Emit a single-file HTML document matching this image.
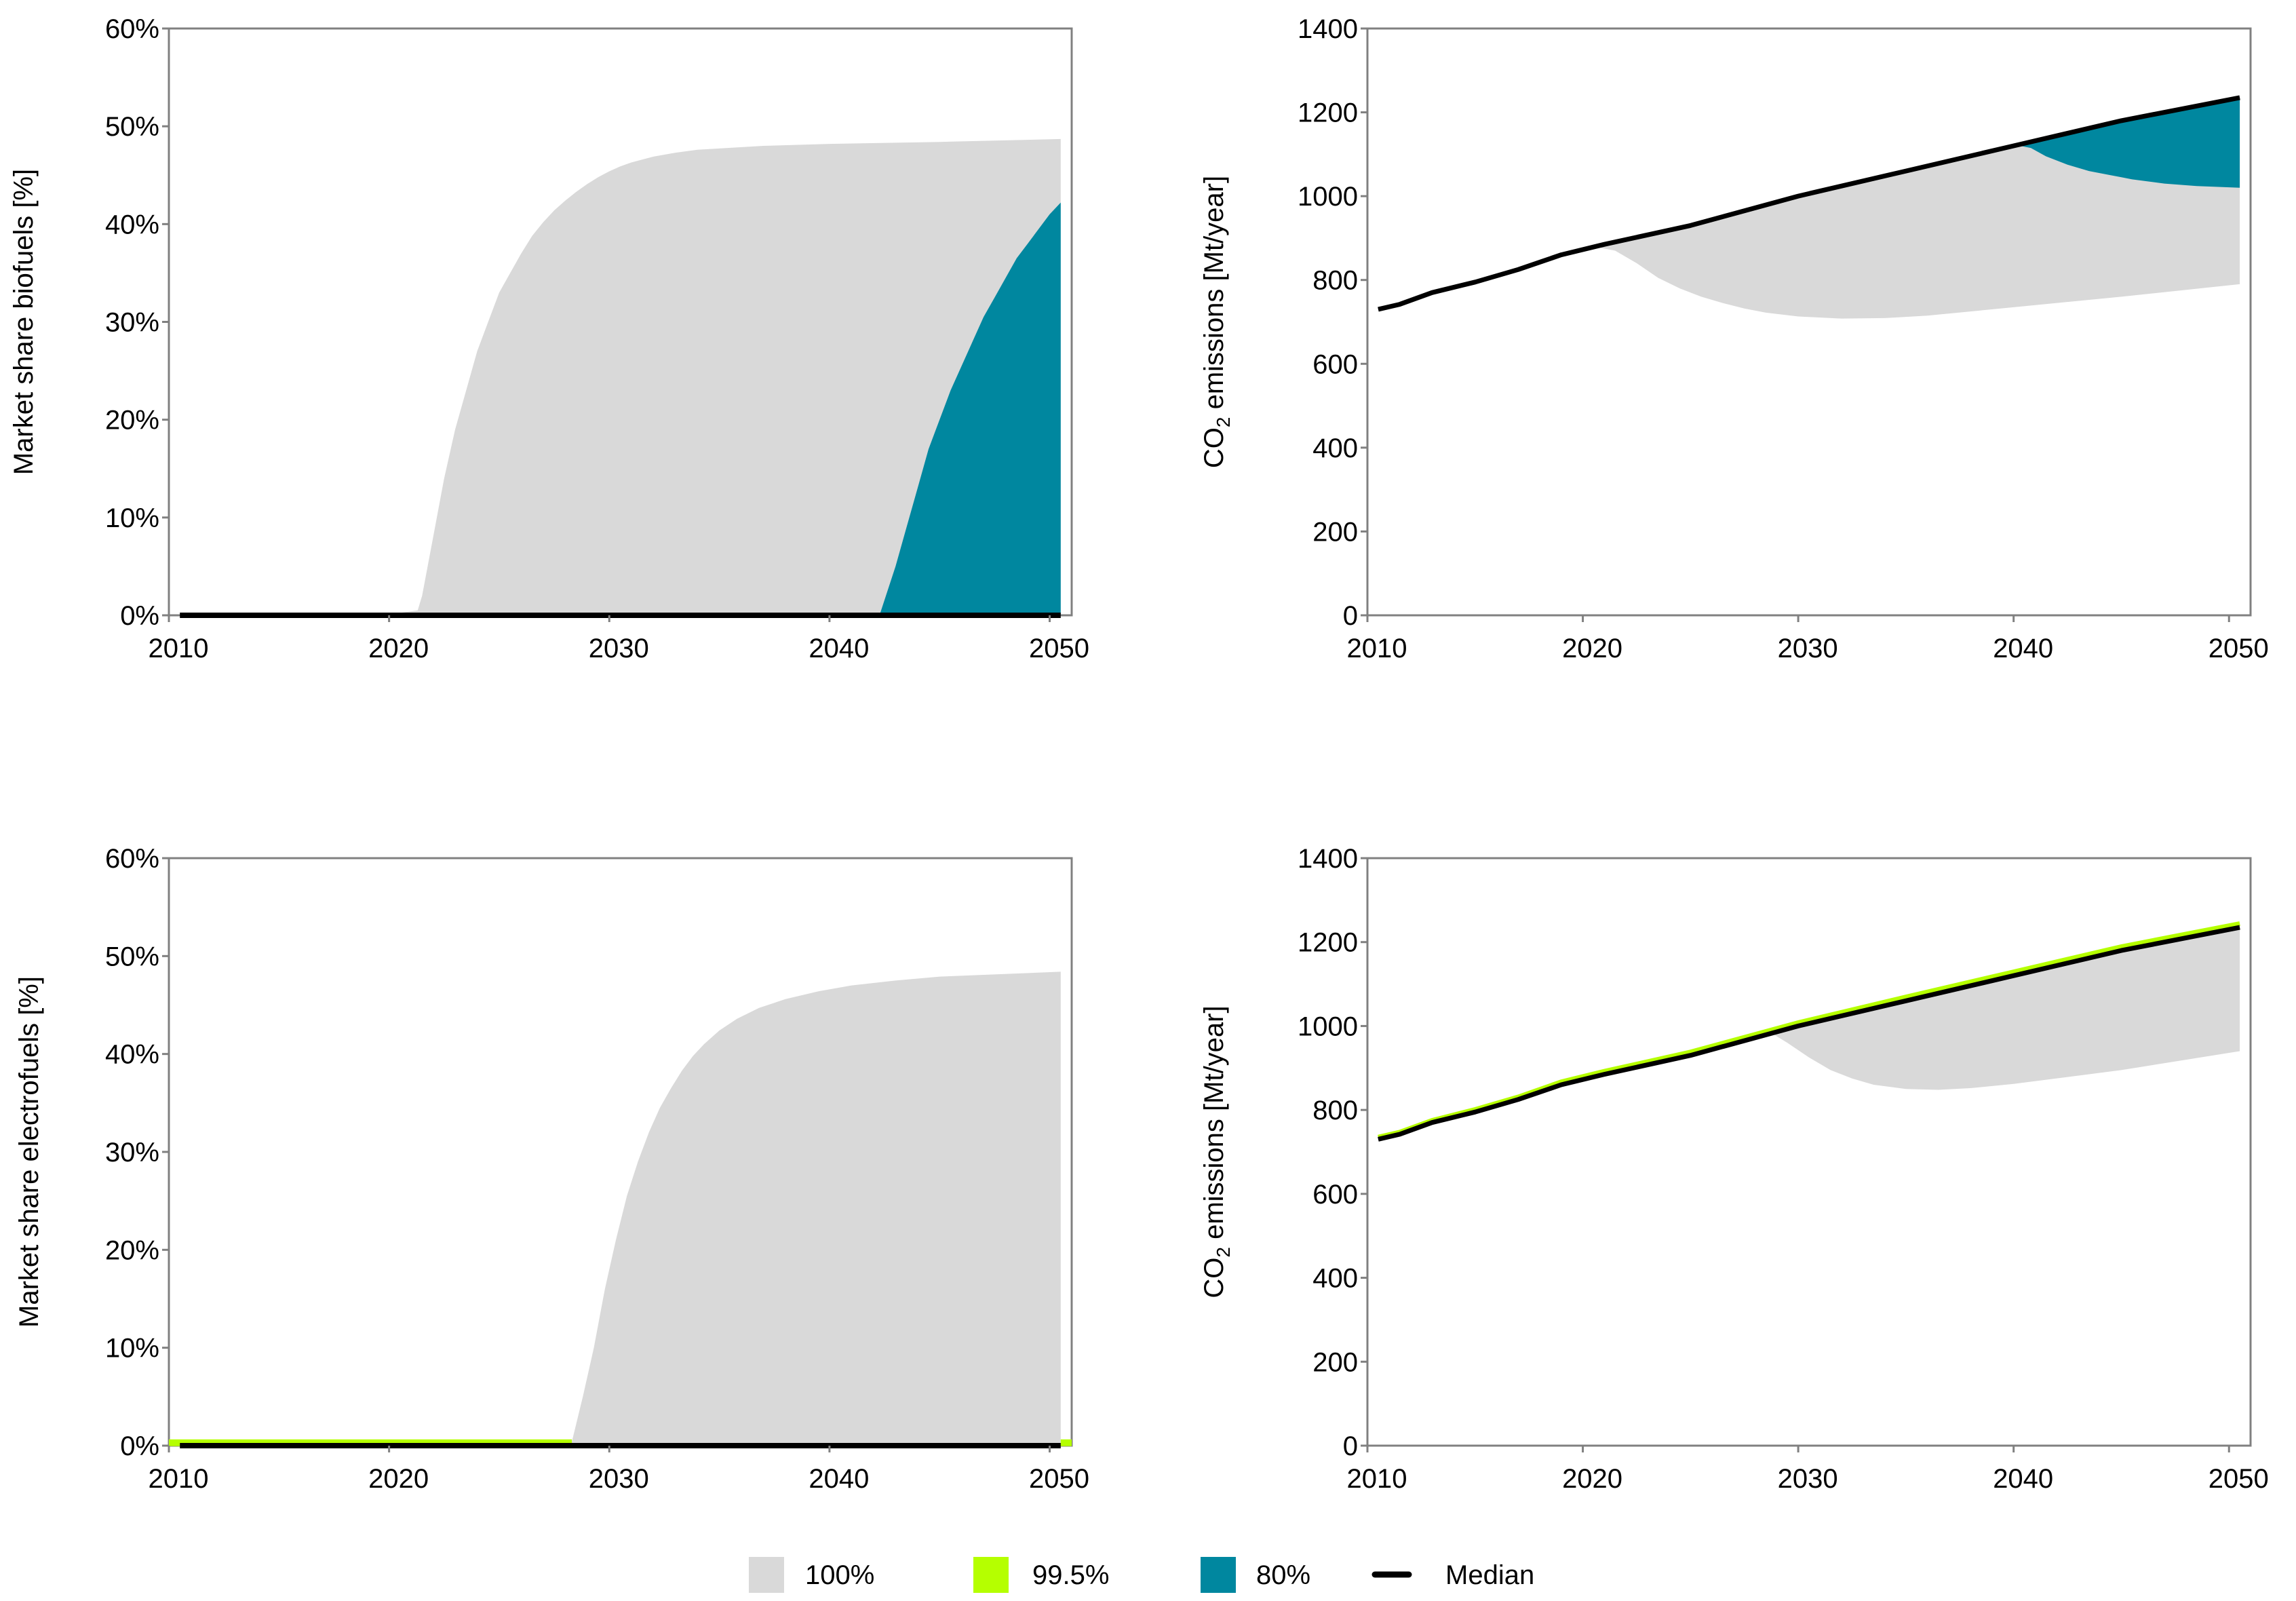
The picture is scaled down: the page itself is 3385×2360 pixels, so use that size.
<!DOCTYPE html>
<html><head><meta charset="utf-8"><style>
html,body{margin:0;padding:0;background:#fff;}
svg{display:block;font-family:"Liberation Sans",sans-serif;}
</style></head><body>
<svg id="chart" width="3385" height="2360" viewBox="0 0 3385 2360" xmlns="http://www.w3.org/2000/svg">
<g id="legend">
<rect x="1104" y="2295" width="52" height="53" fill="#d9d9d9"/>
<text x="1187" y="2335" font-size="40">100%</text>
<rect x="1435" y="2295" width="52" height="53" fill="#b5ff00"/>
<text x="1522" y="2335" font-size="40">99.5%</text>
<rect x="1770" y="2295" width="52" height="53" fill="#00879f"/>
<text x="1852" y="2335" font-size="40">80%</text>
<line x1="2027" y1="2321" x2="2077" y2="2321" stroke="#000" stroke-width="9" stroke-linecap="round"/>
<text x="2131" y="2335" font-size="40">Median</text>
</g>
</svg>
<script>
// ---- data ----
const bioGrayYears = [2010.5,2020,2021.3,2021.5,2022,2022.5,2023,2023.5,2024,2024.5,2025,2025.5,2026,2026.5,2027,2027.5,2028,2028.5,2029,2029.5,2030,2030.5,2031,2032,2033,2034,2035.5,2037,2040,2045,2050.5];
const bioGrayUpper = [0,0.1,0.5,2,8,14,19,23,27,30,33,35,37,38.8,40.2,41.4,42.4,43.3,44.1,44.8,45.4,45.9,46.3,46.9,47.3,47.6,47.8,48,48.2,48.4,48.7];
const bioTealYears = [2042.3,2043,2043.5,2044,2044.5,2045,2045.5,2046,2046.5,2047,2047.5,2048,2048.5,2049,2049.5,2050,2050.5];
const bioTealUpper = [0.2,5,9,13,17,20,23,25.5,28,30.5,32.5,34.5,36.5,38,39.5,41,42.2];
const eleGrayYears = [2010.5,2028.3,2028.8,2029.3,2029.8,2030.3,2030.8,2031.3,2031.8,2032.3,2032.8,2033.3,2033.8,2034.3,2035,2035.8,2036.8,2038,2039.5,2041,2043,2045,2050.5];
const eleGrayUpper = [0.4,0.4,5,10,16,21,25.5,29,32,34.5,36.5,38.3,39.8,41,42.4,43.6,44.7,45.6,46.4,47,47.5,47.9,48.4];
const eleGreenYears = [2010,2028.3];
const eleGreenValues = [0.3,0.3];
const medianYears = [2010.5,2011.5,2013,2015,2017,2019,2021,2025,2030,2035,2040,2045,2050.5];
const medianCO2 = [730,742,770,795,825,860,885,930,1000,1060,1120,1180,1235];
const co2BioLowYears = [2020.5,2021.5,2022.5,2023.5,2024.5,2025.5,2026.5,2027.5,2028.5,2030,2032,2034,2036,2038,2040,2045,2050.5];
const co2BioLow = [880,870,840,805,780,760,745,732,722,713,708,709,715,725,735,760,790];
const co2TealLowYears = [2040.3,2040.8,2041.5,2042.5,2043.5,2044.5,2045.5,2047,2048.5,2050.5];
const co2TealLow = [1120,1115,1095,1075,1060,1050,1040,1030,1024,1020];
const co2EleLowYears = [2028.7,2029.5,2030.5,2031.5,2032.5,2033.5,2035,2036.5,2038,2040,2045,2050.5];
const co2EleLow = [985,960,925,895,875,860,850,848,852,862,895,940];
const co2EleUpperOffset = [5,5,5,6,6,7,7,8,8,9,9,9,9];
const xTicks = [2010,2020,2030,2040,2050];
const pctTicks = [0,10,20,30,40,50,60];
const co2Ticks = [0,200,400,600,800,1000,1200,1400];

const NS="http://www.w3.org/2000/svg";
const svg=document.getElementById('chart');
function mk(tag,attrs,parent){const e=document.createElementNS(NS,tag);for(const k in attrs)e.setAttribute(k,attrs[k]);(parent||svg).appendChild(e);return e;}
function interp(xs,ys,x){if(x<=xs[0])return ys[0];for(let i=1;i<xs.length;i++){if(x<=xs[i]){const t=(x-xs[i-1])/(xs[i]-xs[i-1]);return ys[i-1]+t*(ys[i]-ys[i-1]);}}return ys[ys.length-1];}

function panel(p){
  const g=mk('g',{});
  
  
  const sx=v=>p.x0+(v-2010)*(p.x1-p.x0)/(2051-2010);
  const sy=v=>p.y1-(v-p.ymin)*(p.y1-p.y0)/(p.ymax-p.ymin);
  p.sx=sx;p.sy=sy;p.g=g;
  const fr=mk('rect',{x:p.x0,y:p.y0,width:p.x1-p.x0,height:p.y1-p.y0,fill:'none',stroke:'#808080','stroke-width':3},g);
  
  
  p.draw(p);
  p.yticks.forEach(v=>{
    const y=sy(v);
    const tl=mk('line',{x1:p.x0-10,y1:y,x2:p.x0,y2:y,stroke:'#808080','stroke-width':3},g);
    
    
    const t=mk('text',{x:p.x0-14,y:y+14,'font-size':40,'text-anchor':'end'},g);
    
    
    t.textContent=p.fmt(v);
  });
  xTicks.forEach(v=>{
    const x=sx(v);
    const tl=mk('line',{x1:x,y1:p.y1,x2:x,y2:p.y1+10,stroke:'#808080','stroke-width':3},g);
    
    
    const t=mk('text',{x:x+14,y:p.y1+62,'font-size':40,'text-anchor':'middle'},g);
    
    
    t.textContent=v;
  });
  const cy=(p.y0+p.y1)/2;
  const tt=mk('text',{x:0,y:0,'font-size':40,'text-anchor':'middle',transform:`translate(${p.titleX},${cy}) rotate(-90)`},g);
  
  
  if(p.co2){
    tt.appendChild(document.createTextNode('CO'));
    const s=mk('tspan',{'font-size':28,dy:10},tt);s.textContent='2';
    const r=mk('tspan',{dy:-10},tt);r.textContent=' emissions [Mt/year]';
  } else tt.textContent=p.title;
}
function areaPath(p,xs,upper,lowerFn){
  let d='';
  xs.forEach((x,i)=>{d+=(i?'L':'M')+p.sx(x).toFixed(1)+','+p.sy(upper[i]).toFixed(1);});
  for(let i=xs.length-1;i>=0;i--){d+='L'+p.sx(xs[i]).toFixed(1)+','+p.sy(lowerFn(xs[i])).toFixed(1);}
  return d+'Z';
}
function linePath(p,xs,ys){return xs.map((x,i)=>(i?'L':'M')+p.sx(x).toFixed(1)+','+p.sy(ys[i]).toFixed(1)).join('');}
function unionX(a,lo,hi){return Array.from(new Set(a.filter(y=>y>=lo&&y<=hi).concat(medianYears.filter(y=>y>=lo&&y<=hi)))).sort((x,y)=>x-y);}

const pctFmt=v=>v+'%';
// top-left
panel({name:'panel-biofuels-share',x0:249,x1:1580,y0:42,y1:907,ymin:0,ymax:60,yticks:pctTicks,fmt:pctFmt,titleX:48,title:'Market share biofuels [%]',
 draw:p=>{
  let e=mk('path',{d:areaPath(p,bioGrayYears,bioGrayUpper,()=>0),fill:'#d9d9d9'},p.g);
  
  
  e=mk('path',{d:areaPath(p,bioTealYears,bioTealUpper,()=>0),fill:'#00879f'},p.g);
  
  
  e=mk('path',{d:linePath(p,[2010.5,2050.5],[0,0]),stroke:'#000','stroke-width':8,fill:'none'},p.g);
  
  
 }});
// top-right
panel({name:'panel-biofuels-co2',x0:2016,x1:3318,y0:42,y1:907,ymin:0,ymax:1400,yticks:co2Ticks,fmt:v=>v,titleX:1803,co2:true,
 draw:p=>{
  const xs=unionX(co2BioLowYears,2020.5,2050.5);
  const up=xs.map(x=>interp(medianYears,medianCO2,x));
  let e=mk('path',{d:areaPath(p,xs,up,x=>interp(co2BioLowYears,co2BioLow,x)),fill:'#d9d9d9'},p.g);
  
  
  const xs2=unionX(co2TealLowYears,2040.3,2050.5);
  const up2=xs2.map(x=>interp(medianYears,medianCO2,x));
  e=mk('path',{d:areaPath(p,xs2,up2,x=>interp(co2TealLowYears,co2TealLow,x)),fill:'#00879f'},p.g);
  
  
  e=mk('path',{d:linePath(p,medianYears,medianCO2),stroke:'#000','stroke-width':7,fill:'none','stroke-linejoin':'round'},p.g);
  
  
 }});
// bottom-left
panel({name:'panel-electrofuels-share',x0:249,x1:1580,y0:1265,y1:2131,ymin:0,ymax:60,yticks:pctTicks,fmt:pctFmt,titleX:56,title:'Market share electrofuels [%]',
 draw:p=>{
  let e=mk('path',{d:areaPath(p,eleGrayYears,eleGrayUpper,()=>0),fill:'#d9d9d9'},p.g);
  
  
  e=mk('path',{d:linePath(p,eleGreenYears,eleGreenValues),stroke:'#b5ff00','stroke-width':10,fill:'none'},p.g);
  
  
  e=mk('path',{d:linePath(p,[2050.5,2051],[0.3,0.3]),stroke:'#b5ff00','stroke-width':10,fill:'none'},p.g);
  
  
  e=mk('path',{d:linePath(p,[2010.5,2050.5],[0,0]),stroke:'#000','stroke-width':8,fill:'none'},p.g);
  
  
 }});
// bottom-right
panel({name:'panel-electrofuels-co2',x0:2016,x1:3318,y0:1265,y1:2131,ymin:0,ymax:1400,yticks:co2Ticks,fmt:v=>v,titleX:1803,co2:true,
 draw:p=>{
  const xs=unionX(co2EleLowYears,2028.7,2050.5);
  const up=xs.map(x=>interp(medianYears,medianCO2,x));
  let e=mk('path',{d:areaPath(p,xs,up,x=>interp(co2EleLowYears,co2EleLow,x)),fill:'#d9d9d9'},p.g);
  
  
  const green=medianCO2.map((v,i)=>v+co2EleUpperOffset[i]);
  e=mk('path',{d:linePath(p,medianYears,green),stroke:'#b5ff00','stroke-width':7,fill:'none'},p.g);
  
  
  e=mk('path',{d:linePath(p,medianYears,medianCO2),stroke:'#000','stroke-width':7,fill:'none','stroke-linejoin':'round'},p.g);
  
  
 }});
</script>
</body></html>
